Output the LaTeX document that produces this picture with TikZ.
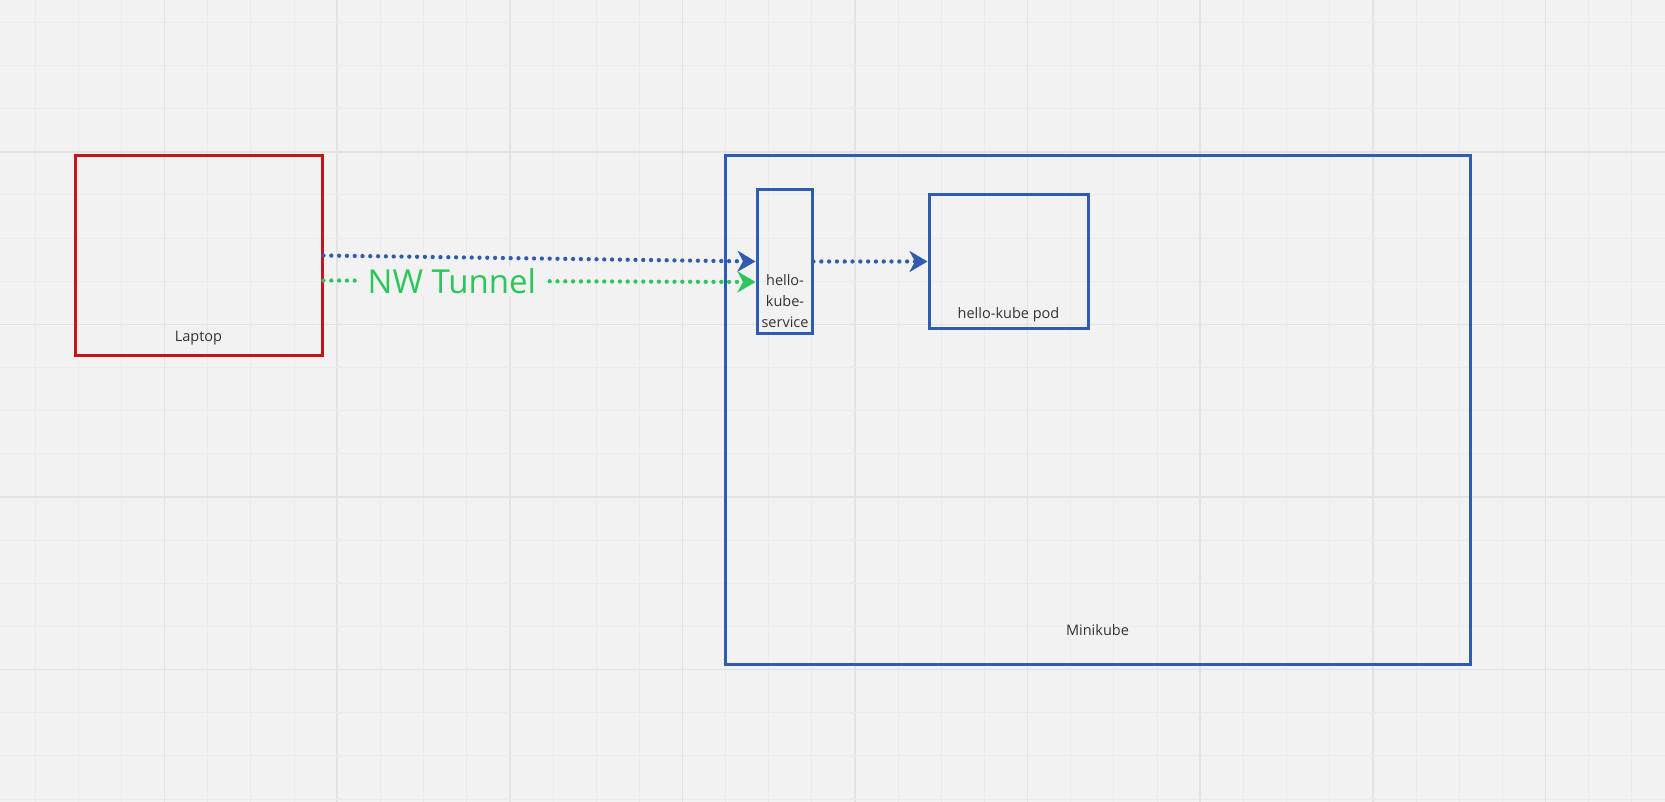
\documentclass[tikz,border=0pt]{standalone}
\usepackage{fontspec}
\setmainfont{Open Sans}
\usetikzlibrary{arrows.meta,calc}
\definecolor{bg}{HTML}{F2F2F2}
\definecolor{gridminor}{HTML}{EBEBEB}
\definecolor{gridmajor}{HTML}{E3E3E3}
\definecolor{boxred}{HTML}{C4151C}
\definecolor{boxblue}{HTML}{2F5CAE}
\definecolor{tunnelgreen}{HTML}{2CC65C}
\definecolor{txt}{HTML}{333333}
\begin{document}
\begin{tikzpicture}[x=1pt,y=-1pt,
  box/.style={draw=#1,line width=3pt,inner sep=0pt,fill=none},
  lbl/.style={text=txt,font=\fontsize{14.5}{21}\selectfont,inner sep=0pt,align=center},
  flow/.style={draw=#1,line width=4.3pt,dash pattern=on 0pt off 7.8pt,line cap=round,
    -{Stealth[length=18pt,width=21pt,inset=5.5pt]}}
]
\useasboundingbox (0,0) rectangle (1665,802);
\fill[bg] (0,0) rectangle (1665,802);
% grid
\foreach \k in {0,...,38}{
  \pgfmathsetmacro{\gx}{35.2+43.15*\k}
  \pgfmathtruncatemacro{\m}{mod(\k+1,4)}
  \ifnum\m=0
    \draw[gridmajor,line width=1.6pt] (\gx,0) -- (\gx,802);
  \else
    \draw[gridminor,line width=1pt] (\gx,0) -- (\gx,802);
  \fi
}
\foreach \k in {0,...,18}{
  \pgfmathsetmacro{\gy}{22.4+43.15*\k}
  \pgfmathtruncatemacro{\m}{mod(\k+1,4)}
  \ifnum\m=0
    \draw[gridmajor,line width=1.6pt] (0,\gy) -- (1665,\gy);
  \else
    \draw[gridminor,line width=1pt] (0,\gy) -- (1665,\gy);
  \fi
}
% boxes
\node[box=boxred,minimum width=247pt,minimum height=199pt] (laptop) at (198.5,255.5) {};
\node[box=boxblue,minimum width=745pt,minimum height=508pt] (minikube) at (1097.5,410) {};
\node[box=boxblue,minimum width=55pt,minimum height=143pt] (service) at (784.5,261.5) {};
\node[box=boxblue,minimum width=159pt,minimum height=133pt] (pod) at (1008.5,261.5) {};
% labels
\node[lbl] (laptoplbl) at ([yshift=18pt]laptop.south) {Laptop};
\node[lbl] (minikubelbl) at ([yshift=35pt]minikube.south) {Minikube};
\node[lbl] (podlbl) at ([yshift=15pt]pod.south) {hello-kube pod};
\node[lbl] (servicelbl) at (785,301) {hello-\\kube-\\service};
% connectors
\coordinate (gstart) at ([yshift=-25pt]laptop.east);
\coordinate (gend) at ([yshift=-20.5pt]service.west);
\draw[flow=boxblue] (laptop.east) -- (service.west);
\draw[flow=boxblue] (service.east) -- (pod.west);
\draw[flow=tunnelgreen] (gstart) -- node[pos=0.297,fill=bg,inner xsep=9pt,inner ysep=2pt,text=tunnelgreen,font=\fontsize{33}{38}\selectfont] (tunnel) {NW Tunnel} (gend);
\end{tikzpicture}
\end{document}
